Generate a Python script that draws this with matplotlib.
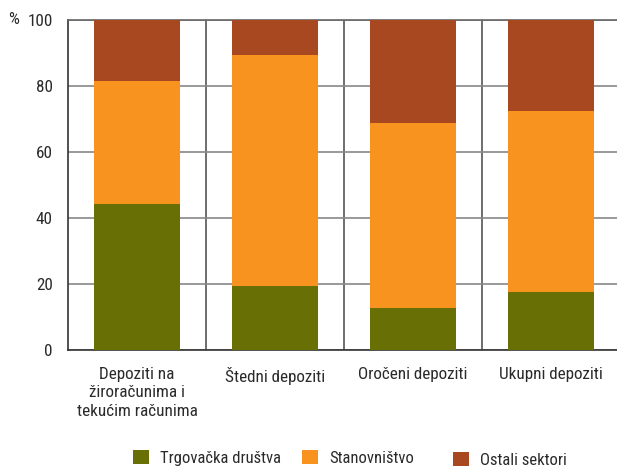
import numpy as np
import matplotlib.pyplot as plt
from matplotlib.patches import Patch

plt.rcParams["font.family"] = ["Roboto Condensed", "Archivo Narrow", "DejaVu Sans"]

# Podaci
kategorije = ["Depoziti na\nžiroračunima i\ntekućim računima", "Štedni depoziti",
              "Oročeni depoziti", "Ukupni depoziti"]
trgovacka = [44.2, 19.4, 12.7, 17.6]
stanovnistvo = [37.3, 70.0, 56.1, 54.8]
ostali = [18.5, 10.6, 31.2, 27.6]

boje = ["#687005", "#F7931E", "#A84820"]
nazivi = ["Trgovačka društva", "Stanovništvo", "Ostali sektori"]
tekst = "#2a2a2a"
fs = 12.3

fig = plt.figure(figsize=(6.17, 4.70), dpi=100)
ax = fig.add_axes([68 / 617, 1 - 350 / 470, 552 / 617, 330 / 470])

x = np.arange(len(kategorije))
dno = np.zeros(len(kategorije))
for vals, c in zip([trgovacka, stanovnistvo, ostali], boje):
    ax.bar(x, vals, width=0.63, bottom=dno, color=c, zorder=3)
    dno += np.array(vals)

ax.set_xlim(-0.5, len(kategorije) - 0.5)
ax.set_ylim(0, 100)
ax.set_yticks(range(0, 101, 20))
ax.set_xticks(x)
ax.set_xticklabels(kategorije, fontsize=fs, color=tekst, linespacing=1.3, va="top")
ax.tick_params(axis="both", length=0, labelsize=fs, colors=tekst)
ax.tick_params(axis="x", pad=12)
ax.tick_params(axis="y", pad=11)

ax.grid(axis="y", color="#888888", linewidth=1.2, zorder=1)
for xv in x[:-1] + 0.5:
    ax.axvline(xv, color="#555555", linewidth=1.2, zorder=1)

for s in ["left", "bottom"]:
    ax.spines[s].set_color("#333333")
    ax.spines[s].set_linewidth(1.2)
ax.spines["top"].set_color("#666666")
ax.spines["top"].set_linewidth(1.2)
ax.spines["right"].set_visible(False)

fig.text(8 / 617, 1 - 20 / 470, "%", fontsize=fs, color=tekst, va="center", ha="left")

# Legenda: tri zasebna unosa
leg_x = [133, 302, 453]
leg_y = [458, 458, 460]
for naziv, c, lx, ly in zip(nazivi, boje, leg_x, leg_y):
    leg = fig.legend([Patch(facecolor=c)], [naziv], loc="center left",
                     bbox_to_anchor=(lx / 617, 1 - ly / 470), frameon=False,
                     fontsize=12, handlelength=0.95, handleheight=0.95,
                     handletextpad=0.7, borderpad=0, borderaxespad=0)
    for t in leg.get_texts():
        t.set_color(tekst)

fig.savefig("out.png", dpi=100)
